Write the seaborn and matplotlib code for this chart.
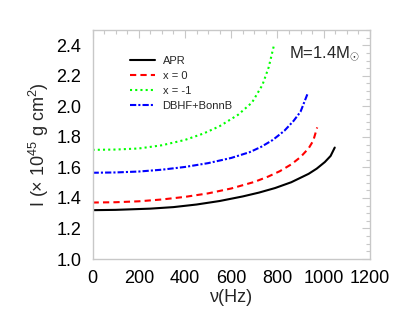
import matplotlib
matplotlib.use("Agg")
import matplotlib.pyplot as plt
from matplotlib.ticker import MultipleLocator
import seaborn as sns
import pandas as pd

# Data
apr_x = [0, 100, 250, 350, 450, 550, 650, 720, 790, 860, 935, 970, 1005, 1030, 1048]
apr_y = [1.32, 1.322, 1.33, 1.34, 1.357, 1.38, 1.41, 1.435, 1.465, 1.503, 1.558, 1.592, 1.635, 1.675, 1.73]

x0_x = [0, 100, 200, 300, 400, 500, 600, 700, 760, 810, 860, 900, 935, 955, 972]
x0_y = [1.37, 1.372, 1.378, 1.39, 1.407, 1.43, 1.462, 1.505, 1.54, 1.575, 1.62, 1.668, 1.725, 1.775, 1.862]

xm1_x = [0, 100, 200, 300, 400, 480, 550, 630, 690, 735, 762, 785]
xm1_y = [1.715, 1.717, 1.724, 1.745, 1.78, 1.822, 1.87, 1.945, 2.025, 2.14, 2.255, 2.40]

dbhf_x = [0, 100, 200, 300, 400, 500, 600, 680, 730, 780, 830, 870, 900, 931]
dbhf_y = [1.565, 1.567, 1.573, 1.585, 1.603, 1.628, 1.662, 1.70, 1.735, 1.78, 1.84, 1.905, 1.965, 2.085]

labels = ["APR", "x = 0", "x = -1", "DBHF+BonnB"]
colors = ["black", "#ff0000", "#00ff00", "#0000ff"]
styles = ["-", (0, (3, 2)), (0, (1, 1.5)), (0, (3, 1, 1, 1))]

frames = []
for lab, xs, ys in zip(labels, [apr_x, x0_x, xm1_x, dbhf_x], [apr_y, x0_y, xm1_y, dbhf_y]):
    frames.append(pd.DataFrame({"nu": xs, "I": ys, "model": lab}))
df = pd.concat(frames, ignore_index=True)

sns.set_style("white")
plt.rcParams["font.family"] = ["Liberation Sans", "DejaVu Sans"]
plt.rcParams["mathtext.fontset"] = "custom"
plt.rcParams["mathtext.rm"] = "Liberation Sans"
plt.rcParams["mathtext.it"] = "Liberation Sans:italic"

fig = plt.figure(figsize=(3.99, 3.19), dpi=100)
ax = fig.add_axes([0.232, 0.188, 0.695, 0.718])

for lab, col, ls in zip(labels, colors, styles):
    sub = df[df["model"] == lab]
    sns.lineplot(data=sub, x="nu", y="I", ax=ax, color=col, linestyle=ls,
                 linewidth=1.5, label=lab, sort=True, estimator=None)

ax.set_xlim(0, 1200)
ax.set_ylim(1.0, 2.5)
ax.xaxis.set_major_locator(MultipleLocator(200))
ax.xaxis.set_minor_locator(MultipleLocator(50))
ax.yaxis.set_minor_locator(MultipleLocator(0.05))
ax.set_yticks([1.0, 1.2, 1.4, 1.6, 1.8, 2.0, 2.2, 2.4])
ax.set_yticklabels(["1.0", "1.2", "1.4", "1.6", "1.8", "2.0", "2.2", "2.4"])

gray = "#c8c8c8"
for sp in ax.spines.values():
    sp.set_color(gray)
    sp.set_linewidth(1.0)
ax.tick_params(which="both", direction="in", top=True, right=True, color=gray,
               labelsize=13, labelcolor="black")
ax.tick_params(which="major", length=6, width=0.8, pad=8)
ax.tick_params(which="minor", length=3, width=0.8)

ax.set_xlabel("ν(Hz)", fontsize=13, labelpad=1)
ax.set_ylabel(r"I ($\times$ 10$^{45}$ g cm$^{2}$)", fontsize=13, labelpad=4)

ax.text(0.71, 0.895, r"M=1.4M$_{\odot}$", transform=ax.transAxes,
        fontsize=12, ha="left", va="center")

leg = ax.legend(loc="upper left", bbox_to_anchor=(0.12, 0.905), frameon=False,
                fontsize=8, handlelength=2.2, handletextpad=0.7,
                labelspacing=0.45, borderaxespad=0)

fig.savefig("out.png", dpi=100)
